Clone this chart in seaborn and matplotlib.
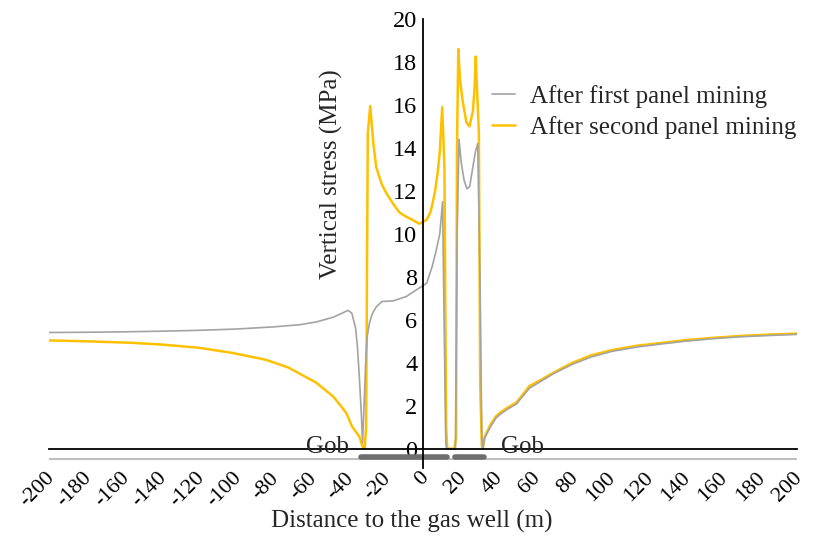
"""Vertical stress along the gas well profile after first / second panel mining."""
import matplotlib
matplotlib.use('Agg')
import matplotlib.pyplot as plt
import matplotlib.transforms as mtransforms
import seaborn as sns
import pandas as pd

# distance to the gas well (m) and vertical stress (MPa)
first_x = [-200, -180, -160, -140, -120, -100, -80, -66, -57, -48, -43, -40, -38, -36, -35, -34, -33,
           -32.3, -31.5, -30.5, -29.7, -28.5, -27, -25, -22, -16, -9, -2, 2, 5, 7, 9, 10.5, 11.3, 12.2,
           12.6, 17.4, 18.3, 19.3, 20.5, 22, 23.5, 25, 26.5, 28, 29.3, 30.5, 31.5, 32,
           33, 36, 39, 41, 45, 50, 57, 62, 70, 80, 90, 101, 115, 128, 140, 155, 170, 185, 200]
first_y = [5.41, 5.42, 5.44, 5.47, 5.51, 5.57, 5.67, 5.77, 5.9, 6.12, 6.32, 6.44, 6.3, 5.6, 4.7, 3.3, 1.7,
           0.3, 2.0, 4.3, 5.3, 5.9, 6.3, 6.6, 6.85, 6.88, 7.08, 7.48, 7.7, 8.5, 9.2, 10.0, 11.5, 6.0, 0.3,
           0.0, 0.0, 10.0, 14.4, 13.3, 12.5, 12.1, 12.2, 13.0, 13.8, 14.2, 8.0, 0.5, 0.0,
           0.5, 1.0, 1.42, 1.58, 1.83, 2.08, 2.82, 3.08, 3.5, 3.93, 4.27, 4.53, 4.74, 4.88, 5.0, 5.12,
           5.21, 5.27, 5.32]

second_x = [-200, -180, -156, -140, -120, -102, -84, -72, -57, -48, -44, -41, -38, -34, -32.3, -31.2,
            -30.4, -29.5, -28.2, -26.5, -25, -22, -19.6, -16, -12.6, -9, -5.6, -1.9, 1.9, 4, 5.1, 6.5,
            7.8, 9, 10.3, 11.5, 12.4, 13, 16.8, 17.7, 18.2, 18.9, 19.8, 21.2, 23.2, 24.9, 26.7, 27.6,
            28.2, 29.9, 30.6, 31.5, 32, 33, 36, 39, 41, 45, 50, 57, 62, 70, 80, 90, 101.7, 115, 128.5,
            140, 155, 170, 185, 200]
second_y = [5.04, 5.0, 4.93, 4.85, 4.7, 4.46, 4.14, 3.78, 3.07, 2.43, 2.0, 1.66, 1.05, 0.56, 0.1, 0.0,
            1.0, 14.7, 15.95, 14.2, 13.1, 12.3, 11.9, 11.4, 11.0, 10.8, 10.65, 10.47, 10.65, 11.0, 11.4,
            12.0, 12.8, 13.8, 15.9, 13.1, 1.0, 0.0, 0.0, 0.5, 14.0, 18.6, 17.2, 16.2, 15.2, 15.0, 15.7,
            16.8, 18.25, 14.7, 3.0, 0.1, 0.0, 0.55, 1.1, 1.5, 1.66, 1.9, 2.15, 2.92, 3.15, 3.55, 4.0,
            4.35, 4.6, 4.8, 4.93, 5.05, 5.16, 5.25, 5.31, 5.36]

series_names = ['After first panel mining', 'After second panel mining']
series_colors = ['#a3a3a3', '#ffc000']

# panel (gob) extents drawn as bars under the axis
panel_segments = [(-33, 13), (17, 32.5)]
x_ticks = list(range(-200, 201, 20))
y_ticks = list(range(0, 21, 2))


def main():
    sns.set_style('white')
    plt.rcParams['font.family'] = ['Liberation Serif', 'DejaVu Serif']
    plt.rcParams['axes.unicode_minus'] = False

    df = pd.concat([
        pd.DataFrame({'x': first_x, 'y': first_y, 'series': series_names[0]}),
        pd.DataFrame({'x': second_x, 'y': second_y, 'series': series_names[1]}),
    ], ignore_index=True)

    fig = plt.figure(figsize=(8.14, 5.38), dpi=100)
    ax = fig.add_axes([0.0602, 0.130, 0.9188, 0.8347])

    sns.lineplot(data=df, x='x', y='y', hue='series', palette=series_colors,
                 sort=False, estimator=None, ax=ax, legend=True)
    for line, lw in zip(ax.lines, [1.2, 1.8]):
        line.set_linewidth(lw)
    ax.lines[0].set_zorder(3)
    ax.lines[1].set_zorder(2)

    ax.set_xlim(-200, 200)
    ax.set_ylim(-0.9, 20)

    # baseline below the axis and the panel bars
    ax.plot([x_ticks[0], x_ticks[-1]], [-0.49, -0.49], color='#b8b8b8', lw=1.3, zorder=1)
    for x0, x1 in panel_segments:
        ax.plot([x0, x1], [-0.4, -0.4], color='#6e6e6e', lw=4, solid_capstyle='round', zorder=4)

    ax.spines['left'].set_position(('data', 0))
    ax.spines['bottom'].set_position(('data', 0))
    ax.spines['right'].set_visible(False)
    ax.spines['top'].set_visible(False)
    for s in ['left', 'bottom']:
        ax.spines[s].set_color('black')
        ax.spines[s].set_linewidth(1.3)
        ax.spines[s].set_zorder(5)

    ax.set_xticks(x_ticks)
    ax.set_yticks(y_ticks)
    ax.tick_params(axis='x', direction='in', length=5, width=1, pad=21.5, labelsize=16, colors='black')
    ax.tick_params(axis='y', direction='in', length=5, width=1, pad=4, labelsize=17.5, colors='black')
    shift = mtransforms.ScaledTranslation(6 / 100, 0, fig.dpi_scale_trans)
    for lab in ax.get_xticklabels():
        lab.set_rotation(45)
        lab.set_ha('right')
        lab.set_va('baseline')
        lab.set_rotation_mode('anchor')
        lab.set_transform(lab.get_transform() + shift)

    ax.set_xlabel('Distance to the gas well (m)', fontsize=18)
    ax.xaxis.set_label_coords(0.485, -0.093)
    ax.set_ylabel('Vertical stress (MPa)', fontsize=18)
    ax.yaxis.set_label_coords(0.393, 0.655)

    ax.text(-51, 0.1, 'Gob', ha='center', va='center', fontsize=18, zorder=6)
    ax.text(53, 0.1, 'Gob', ha='center', va='center', fontsize=18, zorder=6)

    leg = ax.legend(loc='upper left', bbox_to_anchor=(0.592, 0.853), frameon=False,
                    borderaxespad=0, borderpad=0, handlelength=0.92, handletextpad=0.6,
                    labelspacing=0.33, fontsize=18)
    for h, lw in zip(leg.get_lines(), [1.2, 1.8]):
        h.set_linewidth(lw)

    fig.savefig('out.png', dpi=100)


if __name__ == '__main__':
    main()
